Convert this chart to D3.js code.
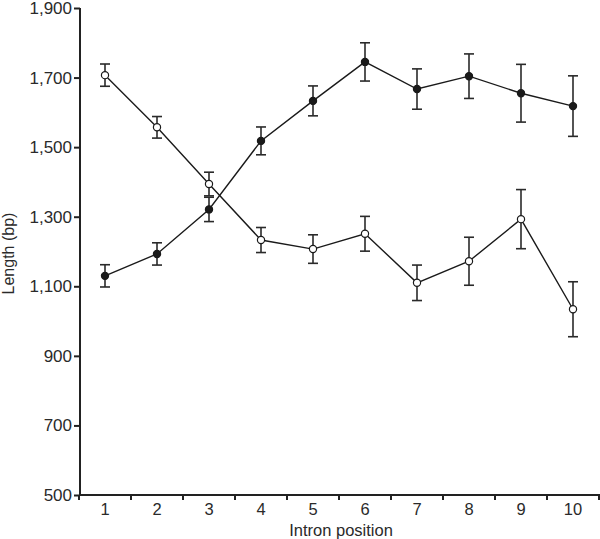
<!DOCTYPE html>
<html>
<head>
<meta charset="utf-8">
<script src="https://cdn.jsdelivr.net/npm/d3@7"></script>
<style>
  html, body { margin: 0; padding: 0; background: #fff; }
  svg { display: block; }
  text { font-family: "Liberation Sans", Arial, Helvetica, sans-serif; fill: #2a2a2a; }
</style>
</head>
<body>
<svg id="chart" width="600" height="539"></svg>
<script>
// ---- data ----
const positions = [1, 2, 3, 4, 5, 6, 7, 8, 9, 10];
const filledMean = [1130, 1193, 1321, 1518, 1633, 1745, 1667, 1704, 1655, 1618];
const filledErr  = [32, 32, 35, 40, 43, 55, 58, 64, 83, 87];
const openMean   = [1707, 1557, 1394, 1233, 1207, 1251, 1110, 1172, 1293, 1034];
const openErr    = [32, 31, 34, 36, 41, 50, 51, 69, 85, 79];
const yTicks = [500, 700, 900, 1100, 1300, 1500, 1700, 1900];

(function () {
const svg = d3.select("#chart");
const mLeft = 80, mRight = 600, mTop = 8, mBottom = 495;

const x = d3.scaleBand().domain(positions).range([79, 599]).padding(0);
const y = d3.scaleLinear().domain([500, 1900]).range([mBottom, mTop]);
const cx = d => x(d) + x.bandwidth() / 2;

// axes
const yAxis = svg.append("g").attr("transform", `translate(${mLeft},0)`)
  .call(d3.axisLeft(y).tickValues(yTicks).tickFormat(d3.format(",")).tickSize(6).tickPadding(2));
yAxis.select(".domain").attr("d", `M0,${mTop}V${mBottom}`);

const xAxis = svg.append("g").attr("transform", `translate(0,${mBottom})`)
  .call(d3.axisBottom(x).tickSize(0).tickPadding(9));
xAxis.select(".domain").attr("d", `M${mLeft},0H${mRight}`);
const bounds = positions.map(p => x(p)).concat([x(positions[positions.length - 1]) + x.bandwidth()]);
xAxis.selectAll(".bound").data(bounds).enter().append("line")
  .attr("class", "bound")
  .attr("x1", d => d).attr("x2", d => d)
  .attr("y1", 0).attr("y2", 5);

svg.selectAll(".domain, .tick line, .bound")
  .attr("stroke", "#222").attr("stroke-width", 2);
svg.selectAll(".tick text").attr("font-size", 17).attr("fill", "#2a2a2a")
  .style("font-family", '"Liberation Sans", Arial, Helvetica, sans-serif');
xAxis.selectAll(".tick text").attr("font-size", 16.5).attr("dy", "0.68em");

// axis titles
svg.append("text")
  .attr("x", (mLeft + mRight) / 2 + 1).attr("y", 536)
  .attr("text-anchor", "middle").attr("font-size", 16.5)
  .text("Intron position");
svg.append("text")
  .attr("transform", `translate(14,${(mTop + mBottom) / 2 + 2}) rotate(-90)`)
  .attr("text-anchor", "middle").attr("font-size", 16)
  .text("Length (bp)");

// series
const series = [
  { mean: filledMean, err: filledErr, fill: "#1a1a1a" },
  { mean: openMean, err: openErr, fill: "#ffffff" }
];
const line = d3.line().x(d => cx(d.p)).y(d => y(d.v));

series.forEach(s => {
  const pts = positions.map((p, i) => ({ p, v: s.mean[i], e: s.err[i] }));
  svg.append("path").datum(pts)
    .attr("d", line).attr("fill", "none")
    .attr("stroke", "#1a1a1a").attr("stroke-width", 1.4);
  const eb = svg.append("g");
  eb.selectAll(".v").data(pts).enter().append("line")
    .attr("x1", d => cx(d.p)).attr("x2", d => cx(d.p))
    .attr("y1", d => y(d.v + d.e)).attr("y2", d => y(d.v - d.e));
  eb.selectAll(".t").data(pts.flatMap(d => [d.v + d.e, d.v - d.e].map(v => ({ p: d.p, v }))))
    .enter().append("line")
    .attr("x1", d => cx(d.p) - 5).attr("x2", d => cx(d.p) + 5)
    .attr("y1", d => y(d.v)).attr("y2", d => y(d.v));
  eb.selectAll("line").attr("stroke", "#2a2a2a").attr("stroke-width", 1.6);
  svg.append("g").selectAll("circle").data(pts).enter().append("circle")
    .attr("cx", d => cx(d.p)).attr("cy", d => y(d.v)).attr("r", 3.6)
    .attr("fill", s.fill).attr("stroke", "#1a1a1a").attr("stroke-width", 1.2);
});
})();
</script>
</body>
</html>
